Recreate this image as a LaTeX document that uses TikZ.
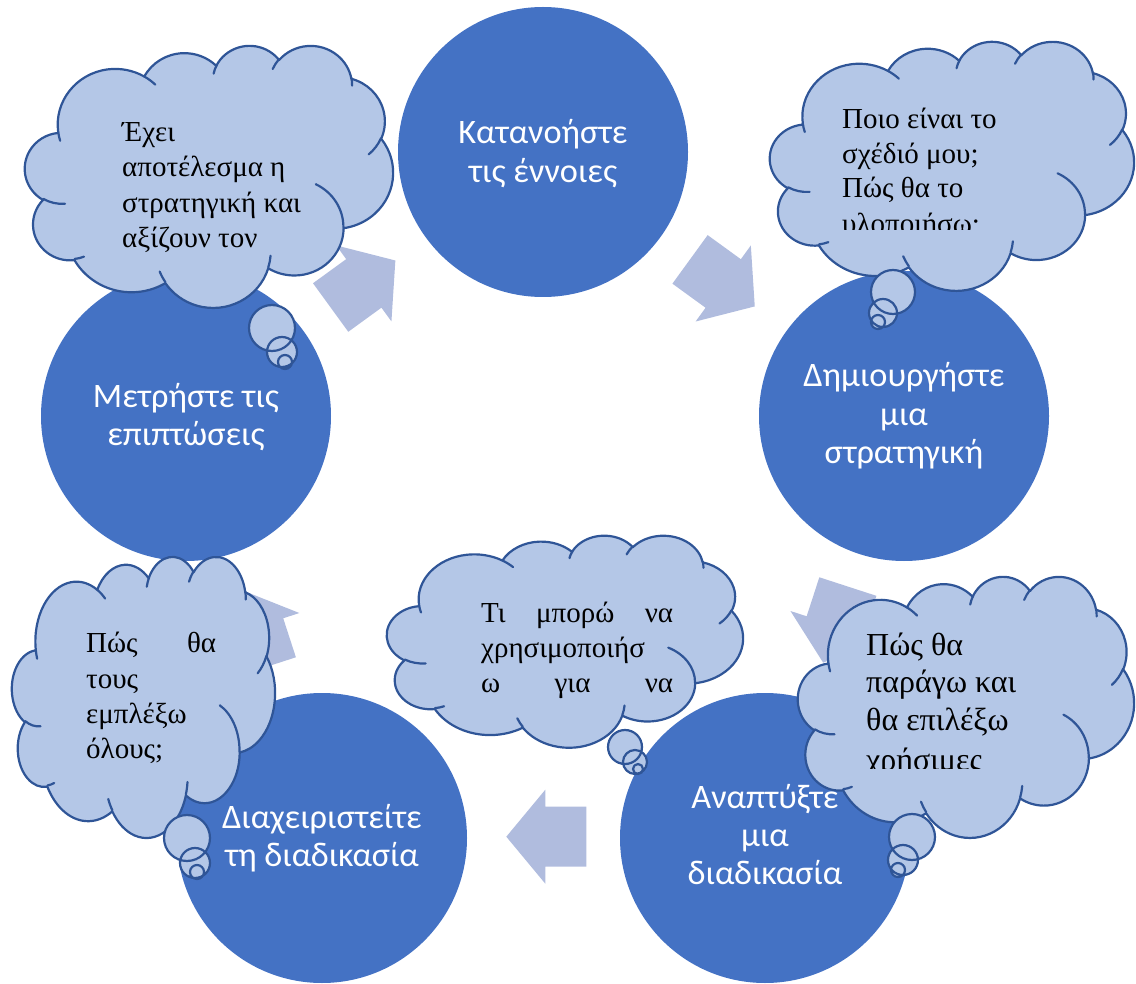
\documentclass[tikz,border=0pt]{standalone}
\usepackage{fontspec}
\setmainfont{Liberation Serif}
\newfontfamily\circfont{Carlito}
\definecolor{circblue}{RGB}{68,114,196}
\definecolor{arrowblue}{RGB}{176,188,222}
\definecolor{cloudfill}{RGB}{180,199,231}
\definecolor{cloudline}{RGB}{47,85,151}

\makeatletter
\def\cldpath{}\def\cldinner{}
\newcommand\cldarcstr[4]{%
  \pgfmathsetmacro\cld@thA{#3}%
  \pgfmathsetmacro\cld@thB{#3+#4}%
  \pgfmathsetmacro\cld@tA{atan2((#1)*sin(\cld@thA),(#2)*cos(\cld@thA))}%
  \pgfmathsetmacro\cld@tB{atan2((#1)*sin(\cld@thB),(#2)*cos(\cld@thB))}%
  \pgfmathsetmacro\cld@dT{mod(\cld@tB-\cld@tA+720,360)}%
  \xdef\cldarcres{arc[x radius=#1,y radius=#2,start angle=\cld@tA,delta angle=\cld@dT]}%
}
\newcommand\cldadd[4]{\cldarcstr{#1}{#2}{#3}{#4}\xdef\cldpath{\cldpath\space\cldarcres}}
\newcommand\cldin[6]{\cldarcstr{#3}{#4}{#5}{#6}\xdef\cldinner{\cldinner\space(#1,#2) \cldarcres}}
\newcommand\cldbuild{%
  \gdef\cldpath{}\gdef\cldinner{}%
  \cldadd{6.753}{9.190}{-190.4875}{123.7805}%
  \cldadd{5.333}{7.267}{-144.1024}{89.9452}%
  \cldadd{4.365}{5.945}{-145.8079}{99.7230}%
  \cldadd{4.857}{6.595}{-130.9861}{117.2417}%
  \cldadd{5.333}{7.273}{-78.7089}{109.0269}%
  \cldadd{6.775}{9.220}{-46.2673}{130.2690}%
  \cldadd{5.785}{7.867}{0.6250}{114.0333}%
  \cldadd{6.752}{9.215}{22.4516}{115.1726}%
  \cldadd{7.720}{10.543}{66.2426}{75.7110}%
  \cldadd{4.360}{5.918}{-274.9421}{146.7356}%
  \cldadd{4.345}{5.945}{-246.8285}{152.5189}%
  \cldin{4.693}{26.177}{4.345}{5.945}{86.7420}{26.4295}%
  \cldin{6.928}{34.899}{4.360}{5.918}{73.6105}{11.4475}%
  \cldin{16.478}{39.090}{6.752}{9.215}{137.6242}{14.0811}%
  \cldin{28.827}{34.751}{6.752}{9.215}{6.4533}{15.9984}%
  \cldin{34.129}{22.954}{5.785}{7.867}{-70.2924}{70.9174}%
  \cldin{41.798}{15.354}{5.333}{7.273}{30.3180}{27.7515}%
  \cldin{38.324}{5.426}{4.857}{6.595}{-13.7443}{14.8589}%
  \cldin{29.078}{3.952}{4.857}{6.595}{-149.1815}{18.1954}%
  \cldin{22.141}{4.720}{4.365}{5.945}{-163.4943}{17.6864}%
  \cldin{14.000}{5.192}{6.753}{9.190}{-66.7070}{12.3194}%
  \cldin{4.127}{15.789}{6.753}{9.190}{157.6544}{11.8582}%
}
\newcommand\drawcloud[4]{%
  \pgfmathsetmacro\cld@sx{(#3-#1)/43.2}%
  \pgfmathsetmacro\cld@sy{(#4-#2)/43.2}%
  \begin{scope}[shift={(#1,#2)},x=\cld@sx pt,y=-\cld@sy pt]
    \filldraw[cloudshape] (3.900,14.370) \cldpath -- cycle;
    \draw[cloudedge] \cldinner;
  \end{scope}
}
\makeatother
\cldbuild

\newcommand\blockarrow[3]{%
  \fill[arrowblue,shift={(#1,#2)},rotate=#3] (-40,-30) -- (1,-30) -- (1,-47) -- (40,0) -- (1,47) -- (1,30) -- (-40,30) -- cycle;}

\tikzset{
  circ/.style={circle,fill=circblue,minimum size=290pt,inner sep=0pt},
  cloudedge/.style={draw=cloudline,line width=2.2pt,line cap=round,line join=round},
  cloudshape/.style={cloudedge,fill=cloudfill},
  bubble/.style={cloudshape},
  ctext/.style={font=\circfont\fontsize{34.3}{40}\selectfont,text=white,inner sep=0pt,anchor=base},
  ttext/.style={font=\fontsize{29}{34}\selectfont,text=black,inner sep=0pt,anchor=base west},
  ttextb/.style={ttext,font=\fontsize{32}{37}\selectfont},
}

\begin{document}
\begin{tikzpicture}[x=1pt,y=-1pt]
\useasboundingbox (0,0) rectangle (1136,984);

% circles
\node[circ] (c1) at (543,152) {};
\node[circ] (c2) at (904,416) {};
\node[circ] (c3) at (765,838) {};
\node[circ] (c4) at (322,838) {};
\node[circ] (c5) at (186,416) {};

% arrows
\blockarrow{722.4}{282.9}{-36}
\blockarrow{835.5}{624.6}{-108}
\blockarrow{546.3}{836.7}{180}
\blockarrow{255}{628.5}{108}
\blockarrow{363}{284}{36}

% circle texts
\node[ctext] (c1a) at (543,144) {Κατανοήστε};
\node[ctext] (c1b) at (543,183) {τις έννοιες};
\node[ctext] (c2a) at (904,387) {Δημιουργήστε};
\node[ctext] (c2b) at (904,425) {μια};
\node[ctext] (c2c) at (904,463) {στρατηγική};
\node[ctext] (c3a) at (765,808) {Αναπτύξτε};
\node[ctext] (c3b) at (765,846) {μια};
\node[ctext] (c3c) at (765,884) {διαδικασία};
\node[ctext] (c4a) at (322,828) {Διαχειριστείτε};
\node[ctext] (c4b) at (322,866) {τη διαδικασία};
\node[ctext] (c5a) at (186,408) {Μετρήστε τις};
\node[ctext] (c5b) at (186,446) {επιπτώσεις};

% cloud 1 (top left)
\drawcloud{25}{45}{393}{307}
\filldraw[bubble] (272,328) circle[radius=23] (282,352) circle[radius=15] (285,362) circle[radius=7];
\node[ttext] (t1a) at (122,141.5) {Έχει};
\node[ttext] (t1b) at (122,177) {αποτέλεσμα η};
\node[ttext] (t1c) at (122,212.5) {στρατηγική και};
\node[ttext] (t1d) at (122,248) {αξίζουν τον};

% cloud 2 (top right)
\drawcloud{770}{41}{1134}{290}
\filldraw[bubble] (893,292) circle[radius=22] (883,313) circle[radius=14] (878,322) circle[radius=7];
\node[ttext] (t2a) at (842,129) {Ποιο είναι το};
\node[ttext] (t2b) at (842,163.5) {σχέδιό μου;};
\node[ttext] (t2c) at (842,198) {Πώς θα το};
\begin{scope}
\clip (780,200) rectangle (1100,230);
\node[ttext] (t2d) at (842,234) {υλοποιήσω;};
\end{scope}

% cloud 3 (bottom middle)
\drawcloud{387}{535}{743}{747}
\filldraw[bubble] (625,747) circle[radius=17] (635,762) circle[radius=12] (638,769) circle[radius=5];
\node[ttext] (t3a) at (481,622) {\hbox to 192pt{Τι\hfill μπορώ\hfill να}};
\node[ttext] (t3b) at (481,657) {χρησιμοποιήσ};
\node[ttext] (t3c) at (481,692) {\hbox to 192pt{ω\hfill για\hfill να}};

% cloud 4 (bottom left)
\drawcloud{12}{556}{275}{837}
\filldraw[bubble] (187,838) circle[radius=23] (195,863) circle[radius=15] (197,872) circle[radius=7];
\node[ttext] (t4a) at (86,652) {\hbox to 130pt{Πώς\hfill θα}};
\node[ttext] (t4b) at (86,688) {τους};
\node[ttext] (t4c) at (86,723) {εμπλέξω};
\node[ttext] (t4d) at (86,758) {όλους;};

% cloud 5 (bottom right)
\drawcloud{798}{576}{1134}{837}
\filldraw[bubble] (912,837) circle[radius=23] (903,860) circle[radius=15] (898,870) circle[radius=7];
\node[ttextb] (t5a) at (866,655) {Πώς θα};
\node[ttextb] (t5b) at (866,692) {παράγω και};
\node[ttextb] (t5c) at (866,730) {θα επιλέξω};
\begin{scope}
\clip (800,735) rectangle (1100,768);
\node[ttextb] (t5d) at (866,770) {χρήσιμες};
\end{scope}
\end{tikzpicture}
\end{document}
